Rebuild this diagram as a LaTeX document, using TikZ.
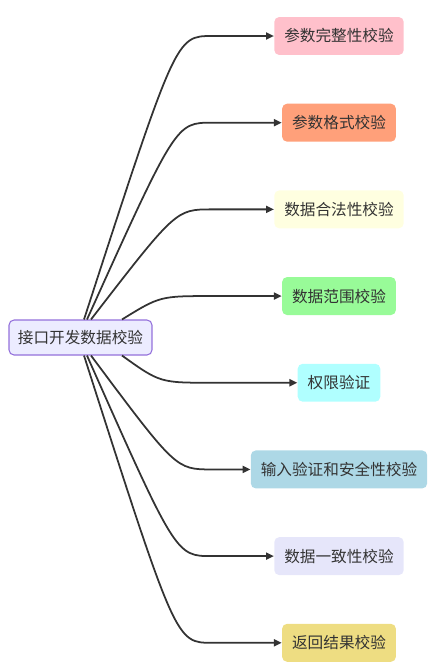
\documentclass[tikz,border=0pt]{standalone}
\usepackage{fontspec}
\setmainfont{Noto Sans CJK SC}
\usepackage{xcolor}
\usepackage{tikz}
\usetikzlibrary{arrows.meta,positioning}

\definecolor{rootfill}{HTML}{ECECFF}
\definecolor{rootline}{HTML}{9370DB}
\definecolor{textgray}{HTML}{333333}
\definecolor{linegray}{HTML}{333333}
\definecolor{pinkbox}{HTML}{FFC0CB}
\definecolor{salmonbox}{HTML}{FFA07A}
\definecolor{yellowbox}{HTML}{FFFFE0}
\definecolor{greenbox}{HTML}{98FB98}
\definecolor{cyanbox}{HTML}{B0FFFF}
\definecolor{bluebox}{HTML}{ADD8E6}
\definecolor{lavenderbox}{HTML}{E6E6FA}
\definecolor{goldbox}{HTML}{EEDD82}

\begin{document}
\begin{tikzpicture}[
  x=0.02cm, y=-0.02cm,
  topic/.style={
    draw=rootline, fill=rootfill, line width=0.6pt,
    rounded corners=0.1cm,
    minimum width=2.86cm, minimum height=0.7cm,
    text=textgray, font=\fontsize{8.9pt}{10pt}\selectfont
  },
  item/.style={
    fill=#1, rounded corners=0.1cm,
    minimum height=0.76cm, inner xsep=0.2cm,
    text=textgray, font=\fontsize{8.9pt}{10pt}\selectfont
  },
  link/.style={
    draw=linegray, line width=1pt,
    -{Triangle[length=4.5pt,width=4pt]}
  }]

\useasboundingbox (0,0) rectangle (440,663);

% central topic
\node[topic] (root) at (80.5,337.5) {接口开发数据校验};

% checks, one below the other
\node[item=pinkbox] (c1) at (339,36) {参数完整性校验};
\node[item=salmonbox, below = 0.96cm of c1] (c2) {参数格式校验};
\node[item=yellowbox, below = 0.96cm of c2] (c3) {数据合法性校验};
\node[item=greenbox, below = 0.96cm of c3] (c4) {数据范围校验};
\node[item=cyanbox, below = 0.96cm of c4] (c5) {权限验证};
\node[item=bluebox, below = 0.96cm of c5] (c6) {输入验证和安全性校验};
\node[item=lavenderbox, below = 0.96cm of c6] (c7) {数据一致性校验};
\node[item=goldbox, below = 0.96cm of c7] (c8) {返回结果校验};

% bends of the connectors
\coordinate (kx) at (176,0);
\coordinate (kn) at (160,0);
\coordinate (bx) at (212,0);

% connectors
\draw[link] ([xshift=0.07cm]root.north) .. controls (kx |- c1.west) .. (bx |- c1.west) -- (c1.west);
\draw[link] ([xshift=0.13cm]root.north) .. controls (kx |- c2.west) .. (bx |- c2.west) -- (c2.west);
\draw[link] ([xshift=0.21cm]root.north) .. controls (kx |- c3.west) .. (bx |- c3.west) -- (c3.west);
\draw[link] ([xshift=0.83cm]root.north) .. controls (kn |- c4.west) .. (bx |- c4.west) -- (c4.west);
\draw[link] ([xshift=0.83cm]root.south) .. controls (kn |- c5.west) .. (bx |- c5.west) -- (c5.west);
\draw[link] ([xshift=0.21cm]root.south) .. controls (kx |- c6.west) .. (bx |- c6.west) -- (c6.west);
\draw[link] ([xshift=0.13cm]root.south) .. controls (kx |- c7.west) .. (bx |- c7.west) -- (c7.west);
\draw[link] ([xshift=0.07cm]root.south) .. controls (kx |- c8.west) .. (bx |- c8.west) -- (c8.west);

\end{tikzpicture}
\end{document}
